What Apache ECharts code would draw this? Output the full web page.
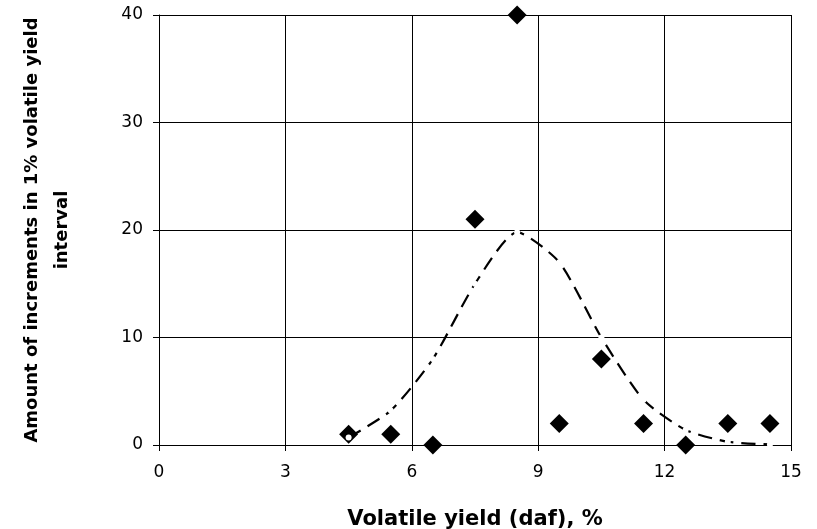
<!DOCTYPE html>
<html>
<head>
<meta charset="utf-8">
<script src="https://cdn.jsdelivr.net/npm/echarts@6/dist/echarts.min.js"></script>
<style>
  html, body { margin: 0; padding: 0; background: #fff; }
  #chart { width: 817px; height: 529px; }
</style>
</head>
<body>
<div id="chart"></div>
<script>
// measured increments per 1% volatile-yield interval
const binCenters = [4.5, 5.5, 6.5, 7.5, 8.5, 9.5, 10.5, 11.5, 12.5, 13.5, 14.5];
const measuredCounts = [1, 1, 0, 21, 40, 2, 8, 2, 0, 2, 2];
// fitted distribution (dashed curve)
const fittedCounts = [0.7, 3.2, 8, 15, 19.8, 17, 10, 4.2, 1.4, 0.3, 0.05];

const xTicks = [0, 3, 6, 9, 12, 15];
const yTicks = [0, 10, 20, 30, 40];

const chart = echarts.init(document.getElementById('chart'));

const labelFont = 'DejaVu Sans';

const option = {
    animation: false,
    backgroundColor: '#fff',
    grid: { left: 159, right: 26, top: 15, bottom: 84, outerBoundsMode: 'none', containLabel: false },
    xAxis: {
        type: 'value',
        min: xTicks[0],
        max: xTicks[xTicks.length - 1],
        interval: xTicks[1] - xTicks[0],
        name: 'Volatile yield (daf), %',
        nameLocation: 'middle',
        nameGap: 64,
        nameTextStyle: { fontFamily: labelFont, fontWeight: 'bold', fontSize: 21, color: '#000' },
        axisLine: { show: true, lineStyle: { color: '#000', width: 1 } },
        axisTick: { show: true, length: 6, lineStyle: { color: '#000' } },
        axisLabel: { margin: 19, fontFamily: labelFont, fontSize: 17, color: '#000' },
        splitLine: { show: true, lineStyle: { color: '#000', width: 1 } }
    },
    yAxis: {
        type: 'value',
        min: yTicks[0],
        max: yTicks[yTicks.length - 1],
        interval: yTicks[1] - yTicks[0],
        name: 'Amount of increments in 1% volatile yield\ninterval',
        nameLocation: 'middle',
        nameGap: 82,
        nameTextStyle: { fontFamily: labelFont, fontWeight: 'bold', fontSize: 18, lineHeight: 30, color: '#000', align: 'center' },
        axisLine: { show: true, lineStyle: { color: '#000', width: 1 } },
        axisTick: { show: true, length: 6, lineStyle: { color: '#000' } },
        axisLabel: { margin: 16, fontFamily: labelFont, fontSize: 17, color: '#000' },
        splitLine: { show: true, lineStyle: { color: '#000', width: 1 } }
    },
    series: [
        {
            name: 'Measured',
            type: 'scatter',
            symbol: 'diamond',
            symbolSize: 19,
            itemStyle: { color: '#000', opacity: 1 },
            data: binCenters.map((x, i) => [x, measuredCounts[i]]),
            z: 2
        },
        {
            name: 'Fit',
            type: 'line',
            smooth: 0.22,
            symbol: 'circle',
            symbolSize: 6,
            showAllSymbol: true,
            itemStyle: { color: '#fff', borderWidth: 0 },
            lineStyle: { color: '#000', width: 2.2, type: [14, 8] },
            data: binCenters.map((x, i) => [x, fittedCounts[i]]),
            z: 3
        }
    ]
};

chart.setOption(option);
</script>
</body>
</html>
